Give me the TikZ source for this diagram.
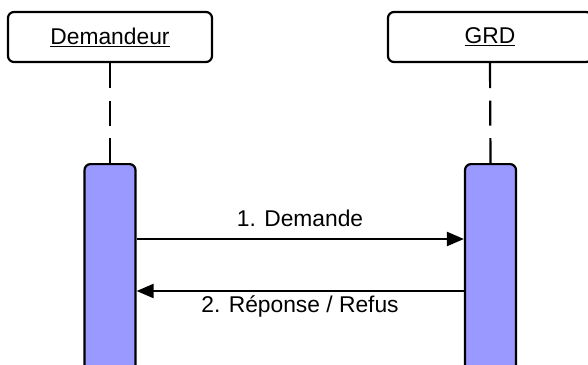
\documentclass[tikz,border=0pt]{standalone}
\usepackage{fontspec}
\setmainfont{Liberation Sans}
\usetikzlibrary{arrows.meta}
\definecolor{actfill}{RGB}{153,153,255}
\begin{document}
\begin{tikzpicture}[x=1pt,y=-1pt,
  every node/.style={font=\fontsize{22.8}{27}\selectfont},
  headbox/.style={draw=black,line width=2.2pt,rounded corners=6pt,fill=white,minimum width=204pt,minimum height=50pt,inner sep=0pt},
  actbox/.style={draw=black,line width=2.2pt,rounded corners=6pt,fill=actfill,minimum width=51pt,minimum height=220pt,inner sep=0pt,anchor=north},
  lifeline/.style={line width=2.2pt,dash pattern=on 25pt off 12.5pt},
  msg/.style={line width=2.2pt,-{Triangle[length=17pt,width=14pt]}},
  lbl/.style={inner sep=0pt}]
\useasboundingbox (0,0) rectangle (588,364);
\begin{scope}
\clip (0,0) rectangle (588,364);
\node[headbox] (dem) at (110,37) {\underline{Demandeur}};
\node[headbox] (grd) at (490,37) {\underline{GRD}};
\node[actbox] (a1) at (110,163) {};
\node[actbox] (a2) at (490.5,163) {};
\draw[lifeline] (dem.south) -- (a1.north);
\draw[lifeline] (grd.south) -- (a2.north);
\coordinate (m1s) at (a1.east |- 0,239);
\coordinate (m1e) at (a2.west |- 0,239);
\coordinate (m2s) at (a2.west |- 0,291);
\coordinate (m2e) at (a1.east |- 0,291);
\draw[msg] (m1s) -- (m1e);
\draw[msg] (m2s) -- (m2e);
\node[lbl] (l1) at (300,218) {1. Demande};
\node[lbl] (l2) at (300,306) {2. Réponse / Refus};
\end{scope}
\end{tikzpicture}
\end{document}
